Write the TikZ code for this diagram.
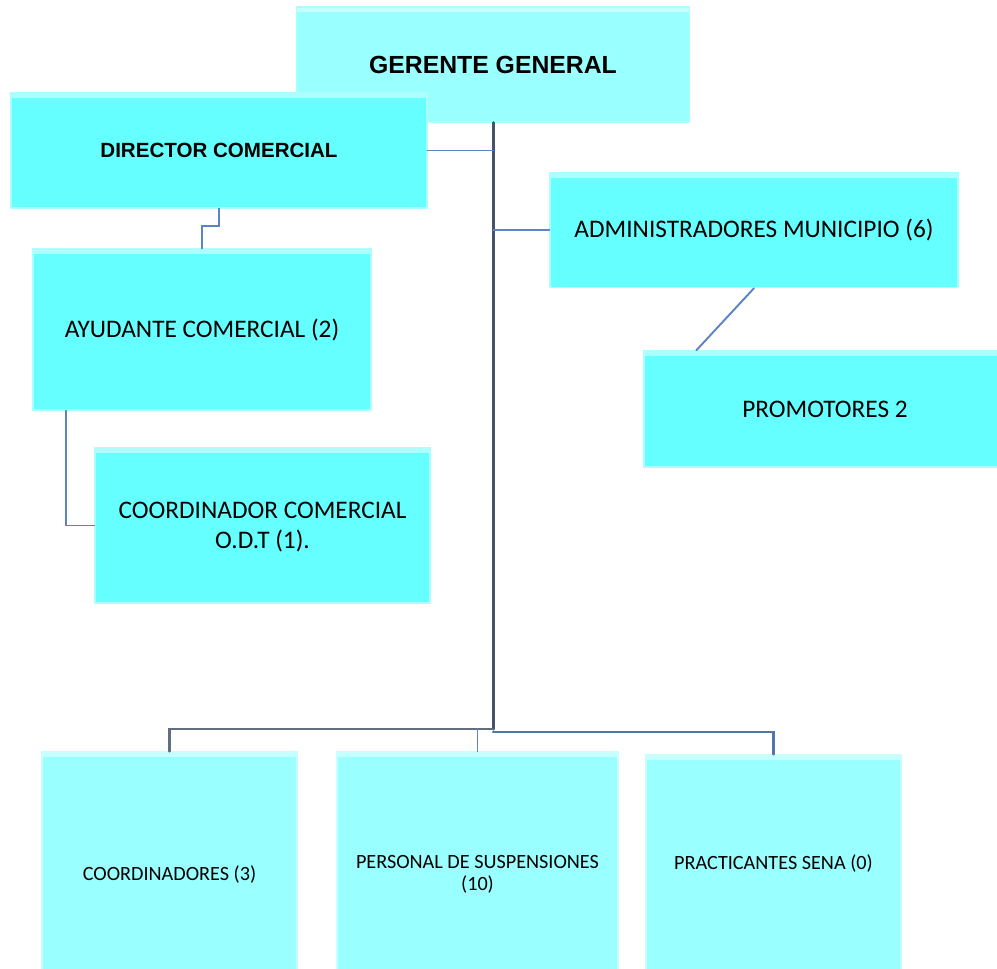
\documentclass[tikz,border=0pt]{standalone}
\usepackage{fontspec}
\setmainfont{Carlito}
\newfontfamily\arialfont{Liberation Sans}
\usepackage{xcolor}
\definecolor{boxcyan}{HTML}{66FFFF}
\definecolor{boxpale}{HTML}{99FFFF}
\definecolor{trunkblue}{HTML}{44546A}
\definecolor{linkblue}{HTML}{5B84C4}
\definecolor{rootblue}{HTML}{4F78A8}

\begin{document}
\begin{tikzpicture}[x=0.02cm,y=-0.02cm,line cap=round,
  orgbox/.style={fill=boxcyan,draw=white!45!boxcyan,line width=0.8pt,inner sep=0pt,
    align=center,font=\fontsize{14.4}{16.8}\selectfont,
    path picture={\fill[white,opacity=0.45] (path picture bounding box.north west)
      rectangle ([yshift=-3pt]path picture bounding box.north east);}},
  palebox/.style={orgbox,fill=boxpale,draw=white!45!boxpale,font=\fontsize{11.5}{12.2}\selectfont},
  headbox/.style={orgbox,font=\arialfont\bfseries\fontsize{14.1}{16}\selectfont},
  trunk/.style={draw=trunkblue,line width=1.7pt},
  link/.style={draw=linkblue,line width=1.1pt}]
\useasboundingbox (0,0) rectangle (997,968);
\clip (0,0) rectangle (997,968);
% top of the chart
\node[headbox,fill=boxpale,minimum width=7.86cm,minimum height=2.30cm] (gg) at (493,64.5) {GERENTE GENERAL};
\node[headbox,font=\arialfont\bfseries\fontsize{11.7}{14}\selectfont,minimum width=8.32cm,minimum height=2.30cm] (dir) at (219,150.5) {DIRECTOR COMERCIAL};
% left branch
\node[orgbox,minimum width=6.76cm,minimum height=3.22cm] (ayu) at (202,329.5) {AYUDANTE COMERCIAL (2)};
\node[orgbox,minimum width=6.70cm,minimum height=3.10cm,text depth=-6pt] (coc) at (262.5,525.5) {COORDINADOR COMERCIAL\\O.D.T (1).};
% right branch
\node[orgbox,minimum width=8.16cm,minimum height=2.30cm] (adm) at (754,230) {ADMINISTRADORES MUNICIPIO (6)};
\node[orgbox,minimum width=7.24cm,minimum height=2.32cm] (pro) at (825,409) {PROMOTORES 2};
% bottom row
\node[palebox,minimum width=5.10cm,minimum height=4.88cm] (coo) at (169.5,874) {COORDINADORES (3)};
\node[palebox,minimum width=5.62cm,minimum height=4.90cm] (per) at (477.5,874.5) {PERSONAL DE SUSPENSIONES\\(10)};
\node[palebox,minimum width=5.10cm,minimum height=4.32cm] (pra) at (773.5,863) {PRACTICANTES SENA (0)};
% connectors
\coordinate (split) at (gg.south |- 0,729);
\coordinate (splitr) at (gg.south |- 0,732);
\draw[trunk] (gg.south) -- (split);
\draw[link] (dir.east) -- (dir.east -| gg.south);
\draw[link] (adm.west -| gg.south) -- (adm.west);
\draw[link] (dir.south) -- ++(0,17) -| (ayu.north);
\draw[link] ([xshift=0.67cm]ayu.south west) |- (coc.west);
\draw[link] (adm.south) -- ([xshift=1.06cm]pro.north west);
\draw[trunk,draw=trunkblue!85,line width=1.4pt] (split) -| (coo.north);
\draw[link] (per.north) -- (per.north |- split);
\draw[trunk,draw=rootblue,line width=1.4pt] (splitr) -| (pra.north);
\end{tikzpicture}
\end{document}
